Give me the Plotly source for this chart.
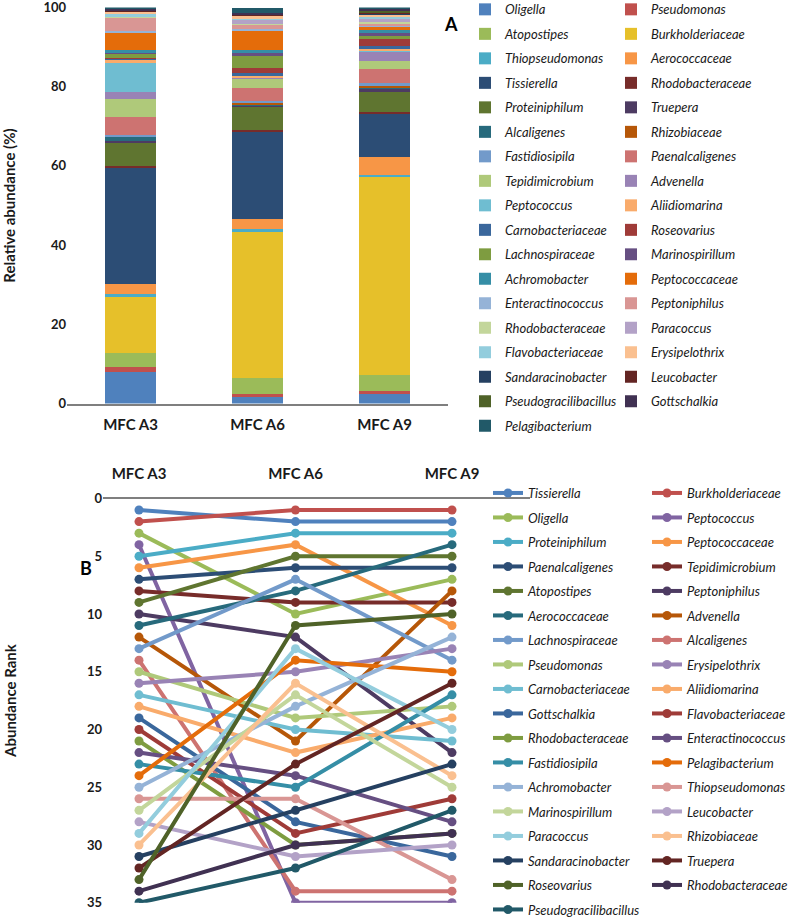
import plotly.graph_objects as go

W, H = 789, 918

samples = ["MFC A3", "MFC A6", "MFC A9"]

# ---------- Panel A: relative abundance (%) ----------
taxa_a = ["Oligella", "Pseudomonas", "Atopostipes", "Burkholderiaceae", "Thiopseudomonas",
          "Aerococcaceae", "Tissierella", "Rhodobacteraceae", "Proteiniphilum", "Truepera",
          "Alcaligenes", "Rhizobiaceae", "Fastidiosipila", "Paenalcaligenes", "Tepidimicrobium",
          "Advenella", "Peptococcus", "Aliidiomarina", "Carnobacteriaceae", "Roseovarius",
          "Lachnospiraceae", "Marinospirillum", "Achromobacter", "Peptococcaceae", "Enteractinococcus",
          "Peptoniphilus", "Rhodobacteraceae", "Paracoccus", "Flavobacteriaceae", "Erysipelothrix",
          "Sandaracinobacter", "Leucobacter", "Pseudogracilibacillus", "Gottschalkia", "Pelagibacterium"]
abund_a3 = [8.0, 1.2, 3.6, 14.4, 0.35, 2.6, 29.5, 0.3, 6.2, 0.05,
            1.3, 0.1, 0.25, 4.6, 4.5, 1.8, 7.3, 0.6, 0.65, 0.03,
            1.3, 0.1, 0.5, 4.6, 0.25, 3.6, 0.1, 0.1, 0.4, 0.8,
            0.1, 0.1, 0.02, 0.45, 0.35]
abund_a6 = [1.6, 0.75, 4.0, 37.2, 0.4, 2.6, 22.2, 0.3, 6.2, 0.2,
            0.05, 0.75, 0.25, 3.2, 2.5, 0.3, 0.05, 0.3, 0.5, 1.3,
            3.0, 0.8, 0.8, 5.0, 0.3, 1.2, 0.1, 1.2, 0.15, 0.85,
            0.15, 0.1, 0.1, 0.15, 1.3]
abund_a9 = [2.5, 0.7, 4.1, 50.2, 0.1, 4.65, 11.1, 0.2, 5.1, 0.9,
            0.05, 0.6, 0.7, 3.5, 2.0, 2.6, 0.02, 0.75, 0.5, 1.8,
            1.0, 0.4, 0.75, 1.2, 0.15, 0.5, 0.3, 0.9, 0.25, 0.8,
            0.35, 0.3, 0.3, 0.25, 0.6]

excel_cycle = ["#4F81BD", "#C0504D", "#9BBB59", "#8064A2", "#4BACC6", "#F79646",
               "#2C4D75", "#772C2A", "#5F7530", "#4D3B62", "#276A7C", "#B65708",
               "#729ACA", "#CD7371", "#AFC97A", "#9983B5", "#6FBDD1", "#F9AB6B",
               "#3A679C", "#9F3B38", "#7E9C40", "#664F82", "#358EA6", "#E46C0A",
               "#95B3D7", "#D99694", "#C3D69B", "#B3A2C7", "#93CDDD", "#FAC090",
               "#254061", "#632523", "#4F6228", "#403152", "#215968"]
colors_a = list(excel_cycle)
colors_a[3] = "#E6C02A"

# ---------- Panel B: abundance rank ----------
taxa_b = ["Tissierella", "Burkholderiaceae", "Oligella", "Peptococcus", "Proteiniphilum",
          "Peptococcaceae", "Paenalcaligenes", "Tepidimicrobium", "Atopostipes", "Peptoniphilus",
          "Aerococcaceae", "Advenella", "Lachnospiraceae", "Alcaligenes", "Pseudomonas",
          "Erysipelothrix", "Carnobacteriaceae", "Aliidiomarina", "Gottschalkia", "Flavobacteriaceae",
          "Rhodobacteraceae", "Enteractinococcus", "Fastidiosipila", "Pelagibacterium", "Achromobacter",
          "Thiopseudomonas", "Marinospirillum", "Leucobacter", "Paracoccus", "Rhizobiaceae",
          "Sandaracinobacter", "Truepera", "Roseovarius", "Rhodobacteraceae", "Pseudogracilibacillus"]
rank_a3 = [1, 2, 3, 4, 5, 6, 7, 8, 9, 10, 11, 12, 13, 14, 15, 16, 17, 18,
           19, 20, 21, 22, 23, 24, 25, 26, 27, 28, 29, 30, 31, 32, 33, 34, 35]
rank_a6 = [2, 1, 10, 35, 3, 4, 6, 9, 5, 12, 8, 21, 7, 34, 19, 15, 20, 22,
           28, 29, 30, 24, 25, 14, 18, 26, 17, 31, 13, 16, 27, 23, 11, 30, 32]
rank_a9 = [2, 1, 7, 35, 3, 11, 6, 9, 5, 22, 4, 8, 14, 34, 18, 13, 21, 19,
           31, 26, 29, 28, 17, 15, 12, 33, 25, 30, 20, 24, 23, 16, 10, 29, 27]
colors_b = list(excel_cycle)

FONT = "Lato"
TXT = "#1a1a1a"
LEG_FS = 13
ROW = 24.5


def px(x):
    return x / W


def py(y):
    return 1 - y / H


fig = go.Figure()

for i, name in enumerate(taxa_a):
    fig.add_trace(go.Bar(
        x=samples, y=[abund_a3[i], abund_a6[i], abund_a9[i]], name=name,
        marker=dict(color=colors_a[i], line=dict(width=0)),
        xaxis="x", yaxis="y",
        legend="legend" if i % 2 == 0 else "legend2",
        legendgroup="a%d" % i, showlegend=True,
    ))

for i, name in enumerate(taxa_b):
    fig.add_trace(go.Scatter(
        x=samples, y=[rank_a3[i], rank_a6[i], rank_a9[i]], name=name,
        mode="lines+markers",
        line=dict(color=colors_b[i], width=4),
        marker=dict(color=colors_b[i], size=9),
        xaxis="x2", yaxis="y2",
        legend="legend3" if i % 2 == 0 else "legend4",
        legendgroup="b%d" % i, showlegend=True,
    ))

gap = ROW - (max(1.3 * LEG_FS, 16) + 3)
leg_common = dict(orientation="v", traceorder="grouped", tracegroupgap=gap,
                  font=dict(family=FONT, size=LEG_FS, color=TXT, style="italic"),
                  bgcolor="rgba(0,0,0,0)", borderwidth=0, xanchor="left", yanchor="top",
                  itemclick=False, itemdoubleclick=False)

XTICKF = dict(family=FONT, size=15, color=TXT, weight="bold")
YTICKF = dict(family=FONT, size=13, color=TXT, weight="bold")

# panel B: plot area from x=103 to 530 px, categories centred at 139 / 296 / 452 px
b_left, b_right, b_c0, b_step = 103.0, 530.0, 139.0, 156.5
b_range = [-(b_c0 - b_left) / b_step, (b_right - b_c0) / b_step]

fig.update_layout(
    width=W, height=H, margin=dict(l=0, r=0, t=0, b=0, autoexpand=False),
    paper_bgcolor="white", plot_bgcolor="white",
    barmode="stack", bargap=0.6,
    font=dict(family=FONT, color=TXT),
    xaxis=dict(domain=[px(67), px(448)], anchor="y", type="category", range=[-0.5, 2.5],
               showline=True, linecolor="#7f7f7f", linewidth=2, ticks="",
               ticklabelstandoff=6, tickfont=XTICKF, showgrid=False),
    yaxis=dict(domain=[py(403.5), py(7.5)], anchor="x", range=[0, 100], dtick=20,
               showline=False, ticks="", showgrid=False, zeroline=False,
               ticklabeloverflow="allow", tickfont=YTICKF,
               title=dict(text="Relative abundance (%)", standoff=24,
                          font=dict(family=FONT, size=15, color=TXT, weight="bold"))),
    xaxis2=dict(domain=[px(b_left), px(b_right)], anchor="y2", side="top", type="category",
                range=b_range, showline=True, linecolor="#7f7f7f", linewidth=2, ticks="",
                ticklabelstandoff=12, tickfont=XTICKF, showgrid=False),
    yaxis2=dict(domain=[py(902.7), py(498.5)], anchor="x2", range=[35, 0], dtick=5,
                showline=False, ticks="", showgrid=False, zeroline=False,
                ticklabeloverflow="allow", tickfont=YTICKF,
                title=dict(text="Abundance Rank", standoff=66,
                           font=dict(family=FONT, size=15, color=TXT, weight="bold"))),
    legend=dict(x=px(465), y=py(-5.6), **leg_common),
    legend2=dict(x=px(611), y=py(-5.6), **leg_common),
    legend3=dict(x=px(488), y=py(478), **leg_common),
    legend4=dict(x=px(647), y=py(478), **leg_common),
    annotations=[
        dict(text="<b>A</b>", x=px(451), y=py(24), xref="paper", yref="paper",
             xanchor="center", yanchor="middle",
             showarrow=False, font=dict(family=FONT, size=18, color="black")),
        dict(text="<b>B</b>", x=px(86), y=py(568), xref="paper", yref="paper",
             xanchor="center", yanchor="middle",
             showarrow=False, font=dict(family=FONT, size=18, color="black")),
    ],
)

fig.write_html("out.html", config={"displayModeBar": False},
               post_script="document.body.style.margin='0px';")
